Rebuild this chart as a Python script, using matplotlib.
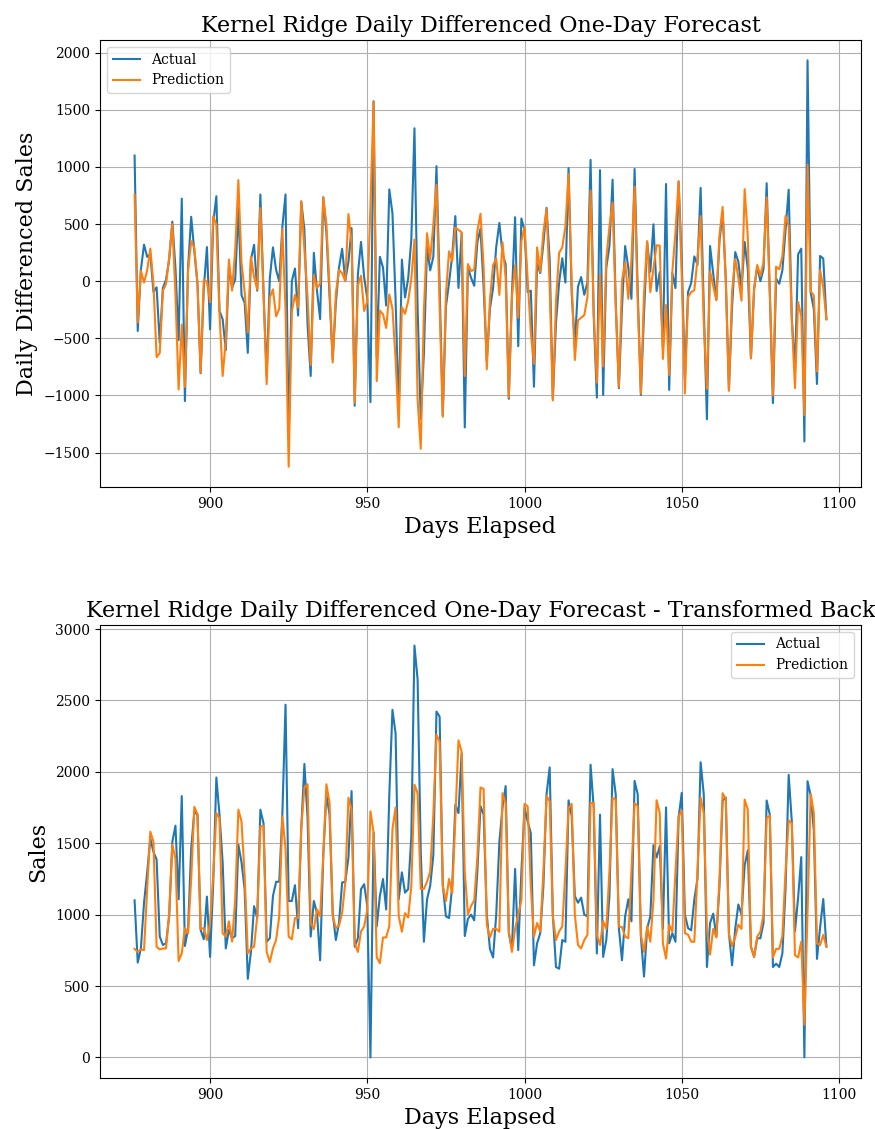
import numpy as np
import matplotlib
matplotlib.use("Agg")
import matplotlib.pyplot as plt

plt.rcParams['font.family'] = ['DejaVu Serif']

days = np.arange(876, 1097)

# Actual daily sales
actual_sales = [
    1100, 664, 763, 1083, 1296, 1533, 1439, 1386, 846, 787,          # 876-885
    800, 988, 1510, 1623, 1107, 1830, 780, 898, 1462, 1723,           # 886-895
    1699, 893, 827, 1126, 704, 1216, 1960, 1700, 1367, 763,           # 896-905
    893, 834, 850, 1490, 1367, 1178, 550, 740, 1059, 976,             # 906-915
    1735, 1640, 810, 834, 1130, 1230, 1230, 1710, 2470, 1095,         # 916-925
    1095, 1206, 905, 1604, 2055, 1676, 846, 1095, 1012, 680,          # 926-935
    1415, 1841, 1700, 1012, 822, 941, 1225, 1230, 1400, 1865,         # 936-945
    775, 834, 1178, 1213, 1059, 0, 1575, 917, 1130, 1249,             # 946-955
    1036, 1840, 2434, 2268, 1107, 1296, 1154, 1178, 1545, 2884,       # 956-965
    2647, 1442, 810, 1107, 1202, 1415, 2422, 2387, 1211, 988,         # 966-975
    976, 1200, 1770, 1711, 2130, 850, 970, 1000, 960, 1300,           # 976-985
    1760, 1700, 1000, 760, 700, 1000, 1510, 1750, 1900, 870,          # 986-995
    760, 1320, 751, 1300, 1747, 1652, 1569, 645, 799, 870,            # 996-1005
    1200, 1842, 2031, 1000, 633, 621, 822, 810, 1800, 1690,           # 1006-1015
    1130, 1083, 1119, 1000, 988, 2050, 1747, 728, 1700, 704,          # 1016-1025
    822, 1130, 2019, 1842, 905, 680, 988, 1107, 953, 1936,            # 1026-1035
    1842, 846, 566, 905, 988, 1486, 1400, 1480, 900, 1751,            # 1036-1045
    799, 870, 810, 1680, 1853, 1000, 905, 890, 1107, 1250,            # 1046-1055
    2067, 1842, 633, 941, 1007, 846, 1200, 1800, 1820, 870,           # 1056-1065
    645, 900, 1071, 1000, 1344, 1450, 775, 704, 834, 834,             # 1066-1075
    941, 1799, 1700, 633, 656, 633, 728, 1178, 1979, 1652,            # 1076-1085
    882, 1118, 1403, 0, 1934, 1835, 1590, 690, 911, 1109,             # 1086-1095
    777,                                                              # 1096
]

# Predicted daily sales, transformed back
predicted_sales = [
    760, 739, 756, 751, 1178, 1581, 1510, 775, 756, 763,              # 876-885
    763, 1012, 1490, 1391, 675, 728, 905, 870, 1249, 1754,            # 886-895
    1704, 898, 905, 822, 941, 1273, 1711, 1676, 870, 846,             # 896-905
    953, 811, 1107, 1735, 1652, 1273, 728, 763, 775, 988,             # 906-915
    1616, 1623, 739, 668, 763, 822, 988, 1687, 1462, 846,             # 916-925
    827, 976, 976, 1604, 1889, 1913, 941, 898, 1036, 988,             # 926-935
    1415, 1913, 1782, 988, 905, 922, 1012, 1225, 1818, 1735,          # 936-945
    799, 739, 882, 917, 1036, 1723, 1575, 700, 660, 840,              # 946-955
    840, 920, 1600, 1750, 990, 880, 1010, 980, 1200, 1910,            # 956-965
    1850, 1180, 1180, 1230, 1300, 1700, 2260, 2210, 1200, 1095,       # 966-975
    1250, 1150, 1670, 2220, 2140, 1300, 1000, 1060, 1100, 1400,       # 976-985
    1890, 1880, 930, 840, 900, 900, 880, 1850, 1782, 884,             # 986-995
    739, 900, 1000, 1100, 1775, 1758, 1200, 846, 941, 882,            # 996-1005
    1300, 1830, 1794, 986, 822, 882, 917, 1300, 1747, 1775,           # 1006-1015
    1000, 787, 763, 822, 858, 1782, 1782, 858, 787, 953,              # 1016-1025
    900, 1300, 1818, 1806, 917, 912, 846, 834, 1300, 1780,            # 1026-1035
    1760, 858, 739, 917, 810, 1100, 1801, 1711, 799, 692,             # 1036-1045
    929, 880, 1300, 1687, 1730, 870, 860, 810, 810, 1300,             # 1046-1055
    1820, 1710, 900, 720, 900, 840, 1250, 1850, 1810, 860,            # 1056-1065
    780, 840, 930, 900, 1806, 1735, 775, 704, 846, 880,               # 1066-1075
    1000, 1676, 1694, 700, 760, 760, 850, 1300, 1660, 1640,           # 1076-1085
    716, 700, 810, 230, 1020, 1846, 1711, 799, 787, 858,              # 1086-1095
    775,                                                              # 1096
]

actual = np.array(actual_sales, dtype=float)
pred = np.array(predicted_sales, dtype=float)
# previous day's actual sales (first one taken as 0, as in the source transform)
prev_actual = np.concatenate([[0.0], actual[:-1]])
actual_diff = actual - prev_actual
pred_diff = pred - prev_actual

fig = plt.figure(figsize=(8.75, 11.29), dpi=100)
ax1 = fig.add_axes([100/875, 1 - 487/1129, 761/875, 447/1129])
ax2 = fig.add_axes([100/875, 1 - 1078/1129, 761/875, 453/1129])

ax1.plot(days, actual_diff, color='tab:blue', lw=1.5, label='Actual')
ax1.plot(days, pred_diff, color='tab:orange', lw=1.5, label='Prediction')
ax1.set_title('Kernel Ridge Daily Differenced One-Day Forecast', fontsize=16)
ax1.set_xlabel('Days Elapsed', fontsize=16)
ax1.set_ylabel('Daily Differenced Sales', fontsize=16)
ax1.grid(True)
ax1.legend(loc='upper left', fontsize=10)

ax2.plot(days, actual, color='tab:blue', lw=1.5, label='Actual')
ax2.plot(days, pred, color='tab:orange', lw=1.5, label='Prediction')
ax2.set_title('Kernel Ridge Daily Differenced One-Day Forecast - Transformed Back', fontsize=16)
ax2.set_xlabel('Days Elapsed', fontsize=16)
ax2.set_ylabel('Sales', fontsize=16)
ax2.grid(True)
ax2.legend(loc='upper right', fontsize=10)

for ax in (ax1, ax2):
    ax.tick_params(labelsize=10)

fig.savefig('out.png', dpi=100)
